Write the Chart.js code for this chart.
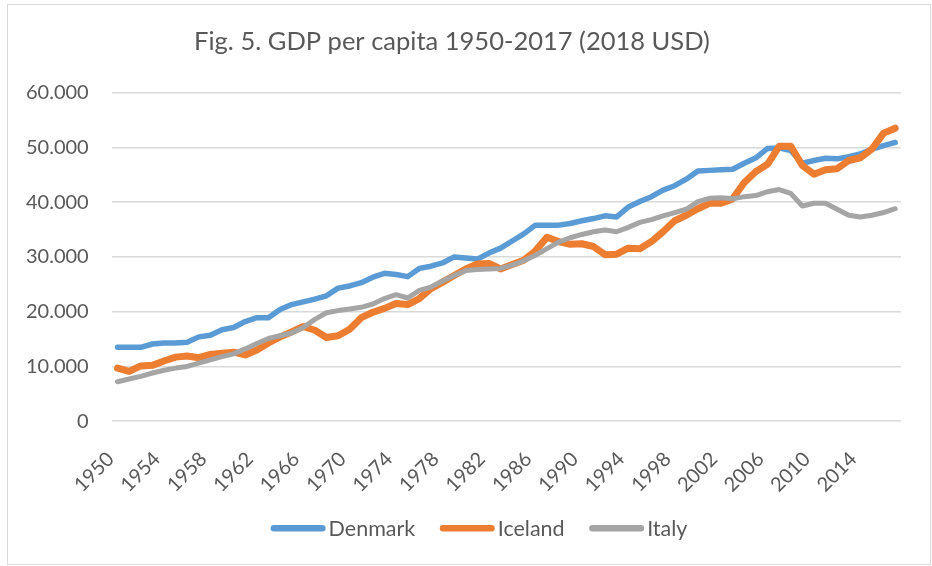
<!DOCTYPE html>
<html>
<head>
<meta charset="utf-8">
<script src="https://cdn.jsdelivr.net/npm/chart.js@4/dist/chart.umd.min.js"></script>
<style>
  html, body { margin: 0; padding: 0; background: #fff; }
  #wrap { position: relative; width: 932px; height: 566px; }
  #frame { position: absolute; left: 7px; top: 4px; width: 922px; height: 559px;
           border: 1px solid #d9d9d9; pointer-events: none; }
</style>
</head>
<body>
<div id="wrap">
  <canvas id="chart" width="932" height="566"></canvas>
  <div id="frame"></div>
</div>
<script>
// years 1950..2017
const years = [];
for (let y = 1950; y <= 2017; y++) years.push(String(y));

const denmark = [
  13500, 13500, 13500, 14100, 14300, 14300, 14400, 15400, 15700, 16700,
  17100, 18200, 18900, 18900, 20400, 21300, 21800, 22300, 22900, 24300,
  24700, 25300, 26300, 27000, 26800, 26400, 27900, 28300, 28900, 30000,
  29800, 29600, 30700, 31600, 32900, 34200, 35800, 35800, 35800, 36100,
  36600, 37000, 37500, 37300, 39100, 40100, 41000, 42200, 43000, 44200,
  45700, 45800, 45900, 46000, 47100, 48100, 49800, 49900, 49400, 47100,
  47600, 48000, 47900, 48300, 48800, 49700, 50300, 50900
];
const iceland = [
  9700, 9100, 10100, 10200, 11000, 11700, 11900, 11600, 12200, 12400,
  12600, 12100, 13000, 14300, 15400, 16300, 17300, 16600, 15300, 15600,
  16800, 18900, 19900, 20600, 21500, 21300, 22400, 24200, 25400, 26600,
  27800, 28700, 28800, 27800, 28600, 29400, 31100, 33600, 32800, 32300,
  32400, 31900, 30400, 30500, 31600, 31500, 32800, 34600, 36600, 37600,
  38800, 39800, 39800, 40600, 43600, 45600, 46900, 50200, 50200, 46700,
  45100, 45900, 46100, 47600, 48100, 49700, 52600, 53500
];
const italy = [
  7200, 7700, 8200, 8800, 9300, 9700, 10000, 10600, 11200, 11800,
  12300, 13200, 14200, 15100, 15600, 16100, 17100, 18600, 19800, 20200,
  20500, 20800, 21400, 22400, 23100, 22500, 23900, 24500, 25600, 26600,
  27500, 27700, 27800, 27900, 28500, 29300, 30300, 31500, 32700, 33500,
  34100, 34600, 34900, 34600, 35400, 36300, 36800, 37500, 38100, 38700,
  40100, 40700, 40800, 40600, 41000, 41200, 41900, 42300, 41600, 39300,
  39800, 39800, 38700, 37600, 37300, 37600, 38100, 38800
];

const seriesNames = ['Denmark', 'Iceland', 'Italy'];
const seriesColors = ['#5b9bd5', '#ed7d31', '#a5a5a5'];
const seriesWidths = [5.5, 7, 5];

const yTicks = [0, 10000, 20000, 30000, 40000, 50000, 60000];
const titleText = 'Fig. 5. GDP per capita 1950-2017 (2018 USD)';

const fmt = v => String(v).replace(/\B(?=(\d{3})+(?!\d))/g, '.');
const textColor = '#595959';
const fontFam = 'Lato, "Open Sans", sans-serif';

const values = [denmark, iceland, italy];
const datasets = values.map((d, i) => ({
  label: seriesNames[i],
  data: d,
  borderColor: seriesColors[i],
  backgroundColor: seriesColors[i],
  borderWidth: seriesWidths[i],
  pointRadius: 0,
  tension: 0,
  fill: false,
  borderCapStyle: 'round',
  borderJoinStyle: 'round',
  order: 3 - i
}));

// legend drawn by hand so the line sits right next to its label, like Excel does
const bottomLegend = {
  id: 'bottomLegend',
  afterDraw(chart) {
    const ctx = chart.ctx;
    const lineLen = 55, gap = 3, spacing = 24.5, lw = 6.5;
    const centerX = 479, lineY = 528.3, textY = 535.5;
    ctx.save();
    ctx.font = '21.5px ' + fontFam;
    const items = chart.data.datasets.map(ds => ({
      label: ds.label, color: ds.borderColor, w: ctx.measureText(ds.label).width
    }));
    let total = 0;
    items.forEach((it, i) => { total += lineLen + gap + it.w + (i ? spacing : 0); });
    let x = centerX - total / 2;
    items.forEach(it => {
      ctx.strokeStyle = it.color;
      ctx.lineWidth = lw;
      ctx.lineCap = 'round';
      ctx.beginPath();
      ctx.moveTo(x + lw / 2, lineY);
      ctx.lineTo(x + lineLen - lw / 2, lineY);
      ctx.stroke();
      ctx.fillStyle = textColor;
      ctx.textBaseline = 'alphabetic';
      ctx.textAlign = 'left';
      ctx.fillText(it.label, x + lineLen + gap, textY);
      x += lineLen + gap + it.w + spacing;
    });
    ctx.restore();
  }
};

new Chart(document.getElementById('chart'), {
  type: 'line',
  data: { labels: years, datasets: datasets },
  options: {
    responsive: false,
    animation: false,
    events: [],
    layout: { padding: { left: 3, right: 31, top: 10, bottom: 51 } },
    plugins: {
      title: {
        display: true,
        text: titleText,
        color: textColor,
        font: { family: fontFam, size: 25.5, weight: 'normal' },
        padding: { top: 16, bottom: 36 }
      },
      legend: { display: false },
      tooltip: { enabled: false }
    },
    scales: {
      x: {
        offset: true,
        grid: { display: false },
        border: { display: false },
        ticks: {
          color: textColor,
          font: { family: fontFam, size: 20 },
          autoSkip: false,
          minRotation: 45,
          maxRotation: 45,
          padding: 18,
          labelOffset: -7,
          callback: (v, i) => (i % 4 === 0 ? years[i] : null)
        }
      },
      y: {
        min: 0,
        max: 60000,
        afterBuildTicks: axis => { axis.ticks = yTicks.map(v => ({ value: v })); },
        grid: { color: '#d9d9d9', lineWidth: 1.5, drawTicks: false },
        border: { display: false },
        ticks: {
          color: textColor,
          font: { family: fontFam, size: 20 },
          padding: 23,
          callback: v => fmt(v)
        }
      }
    }
  },
  plugins: [bottomLegend]
});
</script>
</body>
</html>
